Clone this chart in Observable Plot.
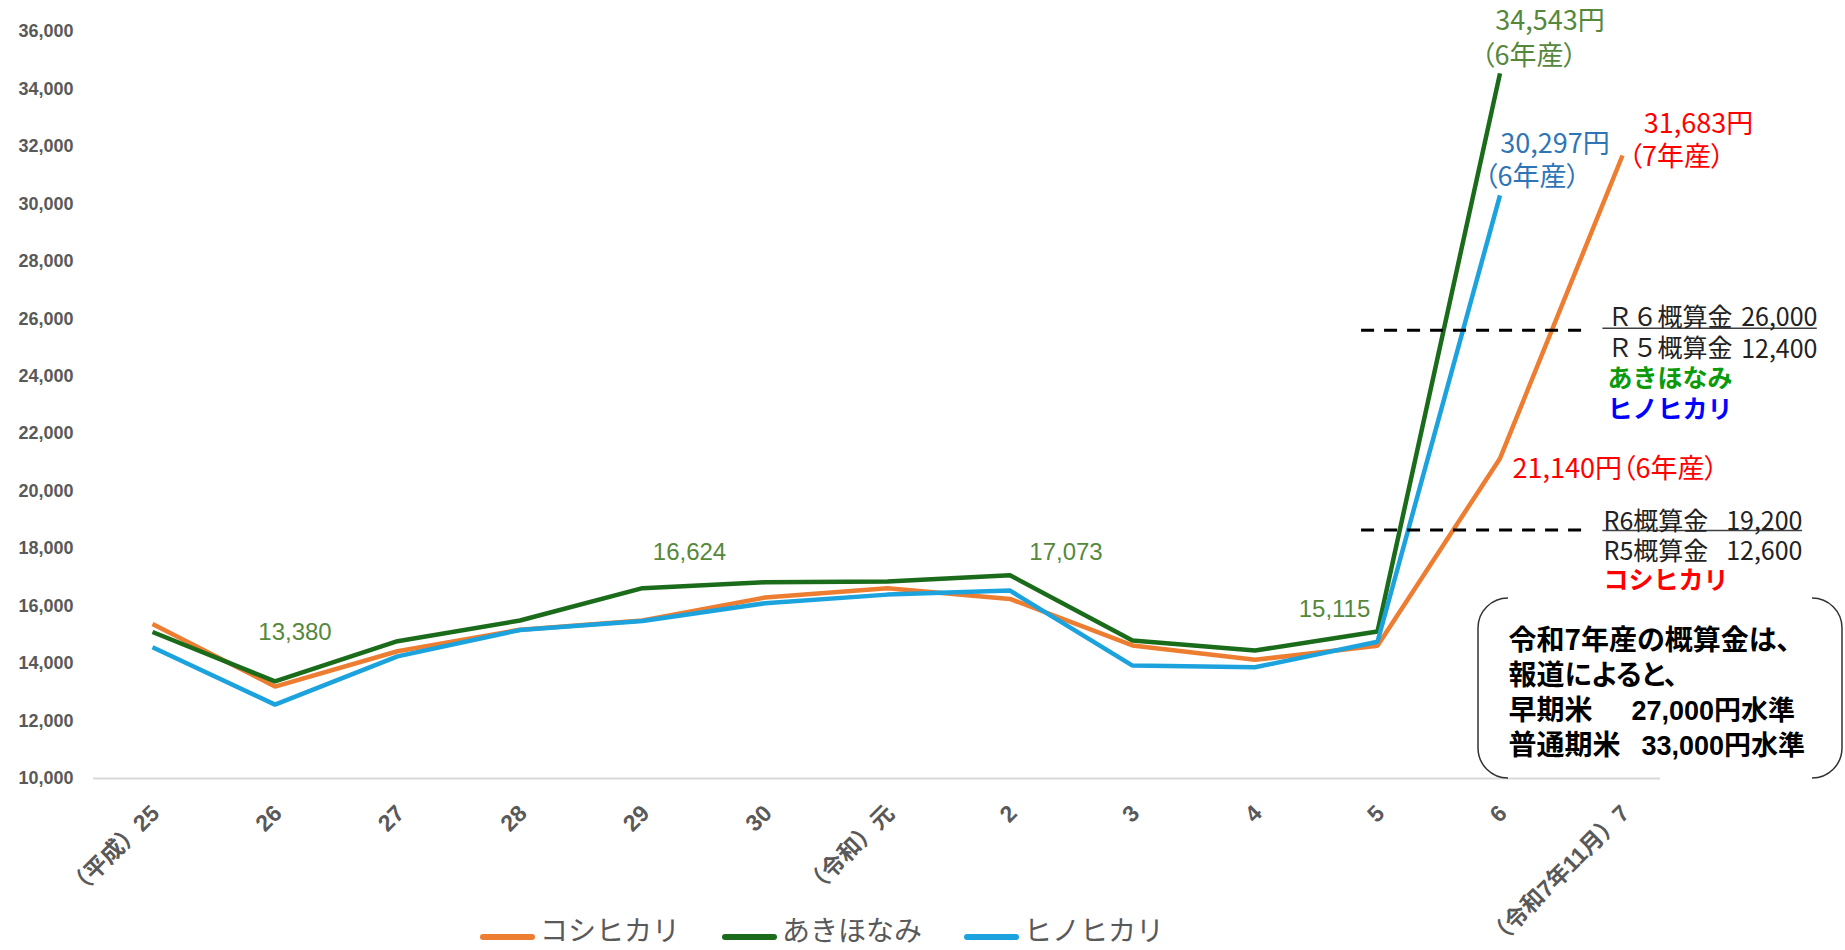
<!DOCTYPE html>
<html><head><meta charset="utf-8">
<script src="https://cdn.jsdelivr.net/npm/d3@7"></script>
<script src="https://cdn.jsdelivr.net/npm/@observablehq/plot@0.6"></script>
<style>
body{margin:0;background:#fff;}
#wrap{position:relative;width:1845px;height:950px;overflow:hidden;}
#legend{position:absolute;left:480px;top:916px;display:flex;align-items:center;height:26px;font-family:"Noto Sans CJK JP";font-size:28px;color:#595959;white-space:nowrap;}
.sw{width:55px;height:6px;border-radius:3px;margin-right:5px;position:relative;top:8px;}
.item{display:flex;align-items:center;margin-right:42px;line-height:26px;height:26px;}
</style></head><body><div id="wrap"></div>
<script>
const years = ["（平成）25","26","27","28","29","30","（令和）元","2","3","4","5","6","（令和7年11月）7"];
const seriesNames = ["コシヒカリ","あきほなみ","ヒノヒカリ"];
const koshihikari = [15380, 13200, 14430, 15180, 15500, 16300, 16620, 16250, 14630, 14130, 14620, 21140, 31683];
const akihonami   = [15100, 13380, 14780, 15500, 16624, 16830, 16860, 17073, 14800, 14455, 15115, 34543, null];
const hinohikari  = [14570, 12570, 14250, 15170, 15480, 16100, 16400, 16540, 13930, 13870, 14760, 30297, null];
const yTicks = [10000,12000,14000,16000,18000,20000,22000,24000,26000,28000,30000,32000,34000,36000];
const gaisanLineLevels = [25600, 18650];
const upperBlock = ["Ｒ６概算金", "26,000", "Ｒ５概算金", "12,400"];
const lowerBlock = ["R6概算金", "19,200", "R5概算金", "12,600"];
const boxLines = ["令和7年産の概算金は、", "報道によると、", "早期米\t27,000円水準", "普通期米\t33,000円水準"];
const cropTags = ["（6年産）", "（7年産）"];

const colors = ["#ED7D31", "#1A6B1A", "#1CA3DE"];
const nameColors = ["#FF0000", "#0A9A0A", "#0000FF"];
const allSeries = [koshihikari, akihonami, hinohikari];
const rows = allSeries.flatMap((arr, s) => arr.map((v, i) => ({i, v, s: seriesNames[s]})));
const fmt = d3.format(",");

const jp = "Noto Sans CJK JP";
const green = "#55883B", blue = "#2E75B6", red = "#FF0000";

function t(datum, text, o) {
  return Plot.text([datum], Object.assign({x: "i", y: "v", text: () => text, fontFamily: jp, fontSize: 25}, o));
}

const marks = [
  Plot.ruleY([10000], {stroke: "#D9D9D9", strokeWidth: 2}),
  Plot.axisY(yTicks, {tickSize: 0, tickPadding: 20, tickFormat: fmt, fontSize: 18, fontWeight: "bold", fontFamily: "Liberation Sans", fill: "#595959", label: null}),
  Plot.text(years, {x: (d, i) => i, y: () => 10000, text: d => d, rotate: -45, textAnchor: "end", dx: 3, dy: 31, fontSize: 23, fontWeight: "bold", fontFamily: "Liberation Sans, Noto Sans CJK JP", fill: "#595959"}),
  Plot.line(rows, {x: "i", y: "v", z: "s", stroke: "s", strokeWidth: 4.5, strokeLinejoin: "miter", strokeLinecap: "butt"}),
  // green value labels
  t({i: 1, v: akihonami[1]}, fmt(akihonami[1]), {dx: 20, dy: -49, fill: green, fontFamily: "Liberation Sans", fontSize: 24}),
  t({i: 4, v: akihonami[4]}, fmt(akihonami[4]), {dx: 47, dy: -36, fill: green, fontFamily: "Liberation Sans", fontSize: 24}),
  t({i: 7, v: akihonami[7]}, fmt(akihonami[7]), {dx: 56, dy: -23, fill: green, fontFamily: "Liberation Sans", fontSize: 24}),
  t({i: 10, v: akihonami[10]}, fmt(akihonami[10]), {dx: -43, dy: -22, fill: green, fontFamily: "Liberation Sans", fontSize: 24}),
  // peak labels
  t({i: 11, v: akihonami[11]}, fmt(akihonami[11]) + "円", {dx: 50, dy: -52, fill: green, fontSize: 27}),
  t({i: 11, v: akihonami[11]}, cropTags[0], {dx: 29, dy: -17, fill: green, fontSize: 27}),
  t({i: 11, v: hinohikari[11]}, fmt(hinohikari[11]) + "円", {dx: 55, dy: -51, fill: blue, fontSize: 27}),
  t({i: 11, v: hinohikari[11]}, cropTags[0], {dx: 32, dy: -18, fill: blue, fontSize: 27}),
  t({i: 12, v: koshihikari[12]}, fmt(koshihikari[12]) + "円", {dx: 76, dy: -31, fill: red, fontSize: 27}),
  t({i: 12, v: koshihikari[12]}, cropTags[1], {dx: 54, dy: 2, fill: red, fontSize: 27}),
  t({i: 11, v: koshihikari[11]}, fmt(koshihikari[11]) + "円" + cropTags[0], {dx: 12.5, dy: 11, fill: red, fontSize: 27, textAnchor: "start"}),
  // dashed prelim lines
  Plot.ruleY(gaisanLineLevels, {x1: 9.87, x2: 11.74, stroke: "#000", strokeWidth: 3, strokeDasharray: "13,10"}),
  Plot.ruleY([gaisanLineLevels[0]], {x1: 11.84, x2: 13.59, stroke: "#404040", strokeWidth: 1.5, dy: -2}),
  Plot.ruleY([gaisanLineLevels[1]], {x1: 11.84, x2: 13.47, stroke: "#404040", strokeWidth: 1.5, dy: 0.5}),
  // upper block
  t({i: 12, v: gaisanLineLevels[0]}, [upperBlock[0], upperBlock[2], seriesNames[1], seriesNames[2]].join("\n"), {dx: -15, dy: 32, lineHeight: 1.227, textAnchor: "start", fill: "#222"}),
  t({i: 12, v: gaisanLineLevels[0]}, upperBlock[1] + "\n" + upperBlock[3], {dx: 195, dy: 1.2, lineHeight: 1.28, textAnchor: "end", fill: "#222"}),
  // lower block
  t({i: 12, v: gaisanLineLevels[1]}, [lowerBlock[0], lowerBlock[2], seriesNames[0]].join("\n"), {dx: -19, dy: 20.2, lineHeight: 1.18, textAnchor: "start", fill: "#222"}),
  t({i: 12, v: gaisanLineLevels[1]}, lowerBlock[1] + "\n" + lowerBlock[3], {dx: 180, dy: 5.5, lineHeight: 1.2, textAnchor: "end", fill: "#222"}),
  // box text
  t({i: 11, v: 10000}, boxLines.join("\n"), {dx: 8.5, dy: -87.5, lineHeight: 1.25, textAnchor: "start", fill: "#000", fontWeight: "bold", fontSize: 28})
];

const plot = Plot.plot({
  width: 1845, height: 950,
  marginLeft: 93, marginRight: 185, marginTop: 31, marginBottom: 172,
  x: {type: "linear", domain: [0, 12], range: [152, 1622], axis: null},
  y: {domain: [10000, 36000], axis: null},
  color: {domain: seriesNames, range: colors},
  style: {background: "#fff", color: "#595959", overflow: "visible"},
  marks
});

const svg = d3.select(plot);
// proportional parentheses for the crop-year tags
svg.selectAll("text").filter(function () { return this.textContent.includes("年産"); })
  .style("font-feature-settings", '"palt"');
// variety names in the annotation blocks: bold and coloured
svg.selectAll("tspan").each(function () {
  const k = seriesNames.indexOf(this.textContent);
  if (k >= 0) d3.select(this).attr("fill", nameColors[k]).attr("font-weight", "bold");
});
// gap between the label and the amount in the note
const noteGap = {"早期米": 39, "普通期米": 21};
svg.selectAll("tspan").each(function () {
  const parts = this.textContent.split("\t");
  if (parts.length < 2) return;
  this.textContent = parts[0];
  d3.select(this).append("tspan").attr("dx", noteGap[parts[0]] || 20)
    .attr("font-family", "Liberation Sans, Noto Sans CJK JP")
    .attr("font-size", 27).text(parts[1]);
});

// bracket-style box around the note
const sx = plot.scale("x"), sy = plot.scale("y");
const x0 = sx.apply(11), y0 = sy.apply(10000);
const L = x0 - 21.5, R = x0 + 342.5, T = y0 - 180, B = y0, r = 30;
svg.append("path").attr("fill", "none").attr("stroke", "#333").attr("stroke-width", 1.5)
  .attr("d", `M${L + r},${T} A${r},${r} 0 0 0 ${L},${T + r} V${B - r} A${r},${r} 0 0 0 ${L + r},${B}`);
svg.append("path").attr("fill", "none").attr("stroke", "#333").attr("stroke-width", 1.5)
  .attr("d", `M${R - r},${T} A${r},${r} 0 0 1 ${R},${T + r} V${B - r} A${r},${r} 0 0 1 ${R - r},${B}`);

const wrap = document.getElementById("wrap");
wrap.appendChild(plot);
const legend = document.createElement("div");
legend.id = "legend";
seriesNames.forEach((n, k) => {
  const it = document.createElement("div"); it.className = "item";
  const sw = document.createElement("div"); sw.className = "sw"; sw.style.background = colors[k];
  const tx = document.createElement("span"); tx.textContent = n;
  it.appendChild(sw); it.appendChild(tx); legend.appendChild(it);
});
wrap.appendChild(legend);
</script></body></html>
